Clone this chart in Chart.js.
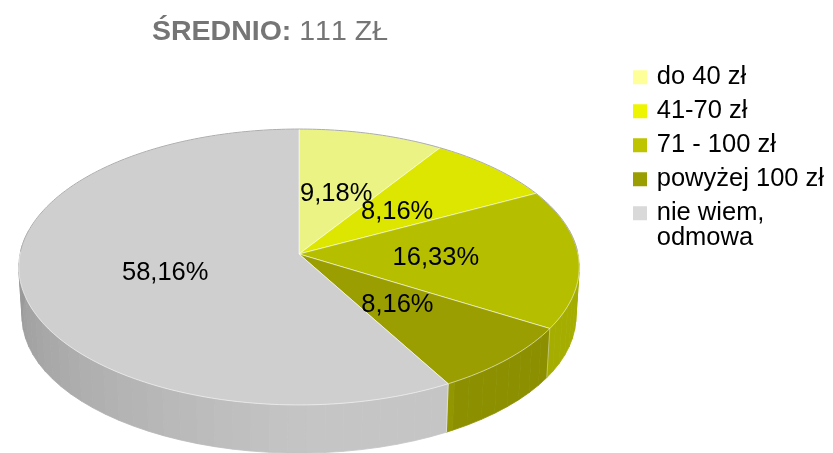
<!DOCTYPE html>
<html lang="pl">
<head>
<meta charset="utf-8">
<style>html,body{margin:0;padding:0;background:#fff}#w{width:833px;height:453px;position:relative}canvas{display:block}</style>
<script src="https://cdn.jsdelivr.net/npm/chart.js@4/dist/chart.umd.js"></script>
</head>
<body>
<div id="w"><canvas id="c" width="833" height="453"></canvas></div>
<script>
const categories = ['do 40 zł', '41-70 zł', '71 - 100 zł', 'powyżej 100 zł', ['nie wiem,', 'odmowa']];
const shareValues = [9.18, 8.16, 16.33, 8.16, 58.16];
const sliceColors = ['#EAF384', '#DCE600', '#B5BF00', '#9A9E00', '#CFCFCF'];
const legendColors = ['#FFFF99', '#EEF500', '#BFC400', '#9A9E00', '#D9D9D9'];
const titleBold = 'ŚREDNIO:';
const titleRegular = '111 ZŁ';

const FONT = '"Liberation Sans", Arial, sans-serif';
const PERSPECTIVE = 0.0942, SQUASH = 0.49, DEPTH = 50, BOTTOM_SCALE = 0.988;
const DEG = Math.PI / 180;

function project(el, a, r, dy, scale) {
  const u = r * Math.cos(a), v = r * Math.sin(a), w = 1 - PERSPECTIVE * v;
  return [el.x + el.outerRadius * scale * u / w,
          el.y + dy + el.outerRadius * SQUASH * scale * v / w];
}
function shade(hex, f) {
  const n = parseInt(hex.slice(1), 16);
  return 'rgb(' + [(n >> 16) & 255, (n >> 8) & 255, n & 255].map(c => Math.round(c * f)).join(',') + ')';
}
function wallFactor(a) {
  const d = a / DEG;
  if (d < 59) return 0.91;
  return d <= 90 ? 0.95 : 0.95 - (d - 90) / 90 * 0.21;
}

/* top face of each slice: the library's arc, seen in perspective */
Chart.ArcElement.prototype.draw = function (ctx) {
  const a0 = this.startAngle, a1 = this.endAngle;
  ctx.save();
  ctx.beginPath();
  ctx.moveTo(this.x, this.y);
  for (let a = a0; a < a1; a += DEG) ctx.lineTo(...project(this, a, 1, 0, 1));
  ctx.lineTo(...project(this, a1, 1, 0, 1));
  ctx.closePath();
  ctx.fillStyle = this.options.backgroundColor;
  ctx.fill();
  ctx.lineWidth = 1;
  ctx.strokeStyle = 'rgba(255,255,255,0.55)';
  ctx.stroke();
  /* thin grey outline along the far rim */
  const b0 = a0 < 0 ? a0 : Math.max(a0, 181 * DEG);
  const b1 = a0 < 0 ? Math.min(a1, -1 * DEG) : a1;
  if (b1 > b0) {
    ctx.beginPath();
    for (let a = b0; a < b1; a += DEG) ctx.lineTo(...project(this, a, 1, 0, 1));
    ctx.lineTo(...project(this, b1, 1, 0, 1));
    ctx.strokeStyle = '#ABABAB';
    ctx.stroke();
  }
  ctx.restore();
};

const scene = {
  id: 'scene',
  afterLayout(chart) {
    Object.assign(chart.chartArea, { left: 0, right: 598, top: 0, bottom: 508, width: 598, height: 508 });
    Object.assign(chart.legend, { left: 627.5, right: 833, top: 56, bottom: 453, width: 205.5, height: 397 });
  },
  beforeDraw(chart) {
    chart.ctx.fontKerning = 'none';
  },
  beforeDatasetsDraw(chart) {
    const ctx = chart.ctx, arcs = chart.getDatasetMeta(0).data;
    ctx.save();
    arcs.forEach((el, i) => {
      const from = Math.max(el.startAngle, -10 * DEG), to = Math.min(el.endAngle, 190 * DEG);
      if (to <= from) return;
      const step = 3.5 * DEG;
      for (let a = from; a < to; a += step) {
        const b = Math.min(a + step, to);
        const p = [project(el, a, 1, 0, 1), project(el, b, 1, 0, 1),
                   project(el, b, 1, DEPTH, BOTTOM_SCALE), project(el, a, 1, DEPTH, BOTTOM_SCALE)];
        ctx.beginPath();
        p.forEach((q, k) => k ? ctx.lineTo(...q) : ctx.moveTo(...q));
        ctx.closePath();
        const col = shade(sliceColors[i], wallFactor((a + b) / 2));
        ctx.fillStyle = col; ctx.strokeStyle = col; ctx.lineWidth = 0.8;
        ctx.fill(); ctx.stroke();
      }
    });
    arcs.forEach(el => {
      if (el.startAngle > 0 && el.startAngle < Math.PI) {
        ctx.beginPath();
        ctx.moveTo(...project(el, el.startAngle, 1, 0, 1));
        ctx.lineTo(...project(el, el.startAngle, 1, DEPTH, BOTTOM_SCALE));
        ctx.strokeStyle = 'rgba(255,255,255,0.45)'; ctx.lineWidth = 1;
        ctx.stroke();
      }
    });
    ctx.restore();
  },
  afterDatasetsDraw(chart) {
    const ctx = chart.ctx, arcs = chart.getDatasetMeta(0).data;
    ctx.save();
    ctx.fontKerning = 'none';
    ctx.font = '25.5px ' + FONT;
    ctx.fillStyle = '#000';
    ctx.textAlign = 'center';
    ctx.textBaseline = 'middle';
    arcs.forEach((el, i) => {
      const p = project(el, (el.startAngle + el.endAngle) / 2, 0.49, 0, 1);
      ctx.fillText(shareValues[i].toFixed(2).replace('.', ',') + '%', p[0], p[1] + 1.5);
    });
    ctx.textAlign = 'left';
    ctx.textBaseline = 'alphabetic';
    ctx.fillStyle = '#757575';
    let x = 152;
    ctx.font = 'bold 28.5px ' + FONT;
    ctx.fillText(titleBold, x, 40);
    x += ctx.measureText(titleBold + ' ').width;
    ctx.font = '28.5px ' + FONT;
    ctx.fillText(titleRegular, x, 40);
    ctx.restore();
  }
};

new Chart(document.getElementById('c'), {
  type: 'pie',
  plugins: [scene],
  data: {
    labels: categories,
    datasets: [{ data: shareValues, backgroundColor: sliceColors, borderWidth: 0, clip: false, radius: 279 }]
  },
  options: {
    responsive: false,
    animation: false,
    events: [],
    plugins: {
      tooltip: { enabled: false },
      title: { display: false },
      legend: {
        display: true,
        position: 'right',
        align: 'start',
        labels: {
          color: '#000',
          font: { family: FONT, size: 25.5, lineHeight: 0.98 },
          boxWidth: 8,
          boxHeight: 8,
          padding: 8.5,
          generateLabels: () => categories.map((t, i) => ({
            text: t, fillStyle: legendColors[i], strokeStyle: legendColors[i],
            lineWidth: 6, hidden: false, index: i
          }))
        }
      }
    }
  }
});
</script>
</body>
</html>
